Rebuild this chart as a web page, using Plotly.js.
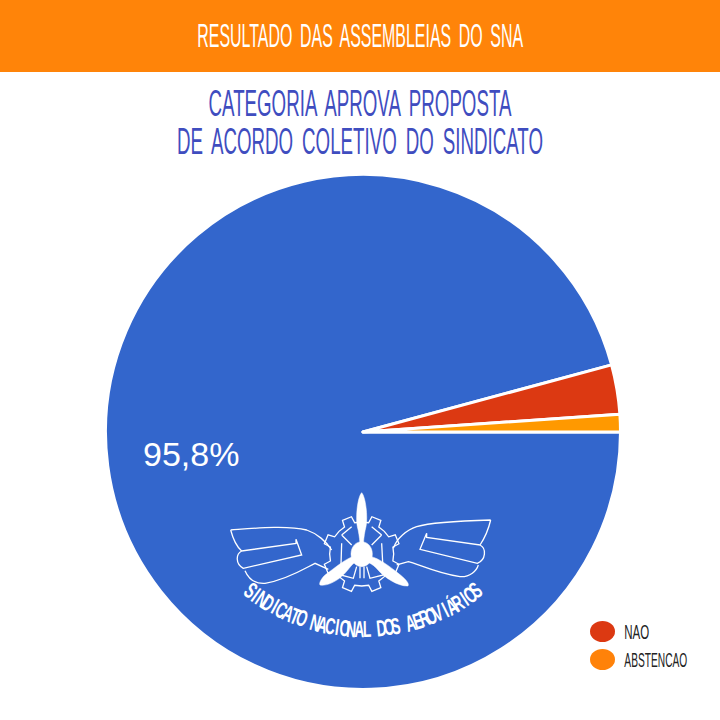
<!DOCTYPE html>
<html><head><meta charset="utf-8">
<script src="https://cdn.plot.ly/plotly-3.0.1.min.js"></script>
<style>html,body{margin:0;padding:0;background:#fff}#c{width:720px;height:720px}</style>
</head><body><div id="c"></div>
<script>
const categories = ['SIM', 'NÃO', 'ABSTENÇÃO'];
const values = [95.8, 3.1, 1.1];
const sliceColors = ['#3366CC', '#DC3912', '#FF9900'];
const legendLabels = ['NAO', 'ABSTENCAO'];
const legendColors = ['#DC3912', '#FF8209'];
const headerText = 'RESULTADO DAS ASSEMBLEIAS DO SNA';
const titleText = 'CATEGORIA APROVA PROPOSTA<br>DE ACORDO COLETIVO DO SINDICATO';
const logoText = 'SINDICATO NACIONAL DOS AEROVIÁRIOS';
const FONT = '"Liberation Sans Narrow", "Liberation Sans", sans-serif';
const W = 720, H = 720;

const fx = x => x / W, fy = y => 1 - y / H;
// logo paths are written in crop coordinates: 3 units per pixel, origin (220,480)
const lx = x => fx(220 + x / 3), ly = y => fy(480 + y / 3);
function logoPath(cmds) {
  return cmds.replace(/(-?[\d.]+),(-?[\d.]+)/g, (m, a, b) => lx(+a).toFixed(5) + ',' + ly(+b).toFixed(5));
}
const stroke = (d, w) => ({type:'path', xref:'paper', yref:'paper', path:logoPath(d), line:{color:'#fff', width:w||1.3}, fillcolor:'rgba(0,0,0,0)', layer:'above'});
const fill = d => ({type:'path', xref:'paper', yref:'paper', path:logoPath(d), line:{color:'#fff', width:0.5}, fillcolor:'#fff', layer:'above'});

// gear outline around the propeller hub
function gearPath() {
  const cx = 425, cy = 222, teeth = 8, rIn = 96, rOut = 116; let d = '';
  for (let i = 0; i < teeth; i++) {
    const a = (i / teeth) * 2 * Math.PI + Math.PI / 8, s = 2 * Math.PI / teeth;
    const pts = [[rIn, a - s * .5], [rIn, a - s * .22], [rOut, a - s * .16], [rOut, a + s * .16], [rIn, a + s * .22]];
    pts.forEach((p, j) => {
      const x = cx + p[0] * Math.cos(p[1]), y = cy + p[0] * Math.sin(p[1]);
      d += (i === 0 && j === 0 ? 'M' : 'L') + x.toFixed(1) + ',' + y.toFixed(1) + ' ';
    });
  }
  return d + 'Z';
}

const shapes = [
  {type:'rect', xref:'paper', yref:'paper', x0:0, x1:1, y0:fy(72), y1:1, fillcolor:'#FF8409', line:{width:0}, layer:'below'},
  {type:'circle', xref:'paper', yref:'paper', x0:fx(590), x1:fx(615), y0:fy(642), y1:fy(621), fillcolor:legendColors[0], line:{width:0}},
  {type:'circle', xref:'paper', yref:'paper', x0:fx(590), x1:fx(615), y0:fy(670), y1:fy(649), fillcolor:legendColors[1], line:{width:0}},
  stroke(gearPath()),
  // inner shield of the gear
  stroke('M365,165 L395,140 M485,165 L455,140 M365,165 L395,195 M485,165 L455,195 M365,190 L362,285 L400,295 L410,260 M485,190 L490,285 L450,295 L440,260 M420,260 L420,295 M432,260 L432,295'),
  // left wing
  stroke('M32,150 C100,145 200,135 260,150 C290,160 320,185 335,210 M32,150 C40,180 50,200 65,213 L228,190 L228,178 L245,225 L70,265 C45,250 48,222 65,213 M75,272 C85,295 105,312 135,310 C200,300 255,265 285,250 L325,268'),
  // right wing
  stroke('M812,120 C740,122 640,125 590,140 C560,150 530,175 520,205 M812,120 C805,150 790,180 780,195 L620,172 L620,160 L600,208 L772,250 C798,240 800,205 780,195 M775,255 C770,272 750,292 720,290 C650,280 590,250 565,245 L530,255'),
  // propeller
  fill('M425,38 C437,50 444,110 438,140 C434,155 432,170 430,190 L420,190 C418,170 416,155 412,140 C406,110 413,50 425,38 Z'),
  fill('M393,222 C393,200 408,185 425,185 C442,185 457,200 457,222 C457,245 442,260 425,260 C408,260 393,245 393,222 Z'),
  fill('M398,230 C375,238 345,263 318,283 C305,293 296,310 300,315 C325,320 362,297 380,274 C390,262 397,252 404,248 Z'),
  fill('M452,230 C475,233 510,260 535,280 C552,293 570,310 564,318 C535,320 493,292 476,272 C466,260 456,252 446,248 Z')
];

const base = {xref:'paper', yref:'paper', showarrow:false, xanchor:'center', yanchor:'middle'};
const annotations = [
  {...base, text:headerText, x:0.5, y:fy(35), font:{family:FONT, size:33, color:'#fff'}},
  {...base, text:legendLabels[0], x:fx(637), y:fy(631), font:{family:FONT, size:21, color:'#222'}},
  {...base, text:legendLabels[1], x:fx(656), y:fy(659.5), font:{family:FONT, size:21, color:'#222'}},
  {...base, text:values[0].toFixed(1).replace('.', ',') + '%', x:fx(191), y:fy(454), font:{family:'"Liberation Sans", Arial, sans-serif', size:34, color:'#fff'}}
];
// curved wordmark, one letter at a time along an arc under the emblem
const arcC = {x:363, y:446}, arcR = 183, arcSpan = 38;
const n = logoText.length;
[...logoText].forEach((ch, i) => {
  if (ch === ' ') return;
  const deg = -arcSpan + 2 * arcSpan * i / (n - 1), t = deg * Math.PI / 180;
  annotations.push({...base, text:ch, x:fx(arcC.x + arcR * Math.sin(t)), y:fy(arcC.y + arcR * Math.cos(t)),
    textangle:-deg, font:{family:FONT, size:23, weight:700, color:'#fff'}});
});

const R = 257.5;
const trace = {
  type:'pie', labels:categories, values:values, sort:false, direction:'clockwise', rotation:90,
  marker:{colors:sliceColors, line:{color:'#fff', width:3}},
  textinfo:'none', hoverinfo:'label+percent', showlegend:false,
  domain:{x:[fx(363 - R), fx(363 + R)], y:[fy(432 + R), fy(432 - R)]}
};
const layout = {
  width:W, height:H, margin:{l:0, r:0, t:0, b:0, pad:0}, paper_bgcolor:'#fff', separators:',.',
  showlegend:false, shapes:shapes, annotations:annotations,
  title:{text:titleText, x:0.5, xanchor:'center', xref:'paper', yref:'paper', y:fy(116), yanchor:'middle',
    font:{family:FONT, size:37, color:'#3F4DBF'}}
};

// the reference lettering is a tall, very condensed hand; squeeze real text to its measured width
function squeeze(el, targetW, ws) {
  if (ws) el.style.wordSpacing = ws;
  const b = el.getBBox();
  el.style.transformBox = 'fill-box';
  el.style.transformOrigin = 'center';
  el.style.transform = 'scaleX(' + (targetW / b.width) + ')';
}
Plotly.newPlot('c', [trace], layout, {displayModeBar:false, staticPlot:true}).then(() => {
  const root = document.getElementById('c');
  const tt = root.querySelector('.gtitle');
  if (tt) {
    tt.querySelectorAll('tspan.line').forEach((l, i) => { if (i > 0) l.setAttribute('dy', '1.03em'); });
    squeeze(tt, 366, '0.2em');
  }
  root.querySelectorAll('.annotation-text').forEach(el => {
    const s = el.textContent;
    if (s === headerText) squeeze(el, 326, '0.2em');
    else if (s === legendLabels[0]) squeeze(el, 25);
    else if (s === legendLabels[1]) squeeze(el, 63);
    else if (s.length === 1) { el.style.transformBox = 'fill-box'; el.style.transformOrigin = 'center'; el.style.transform = 'scaleX(0.6)'; }
  });
});
</script>
</body></html>
